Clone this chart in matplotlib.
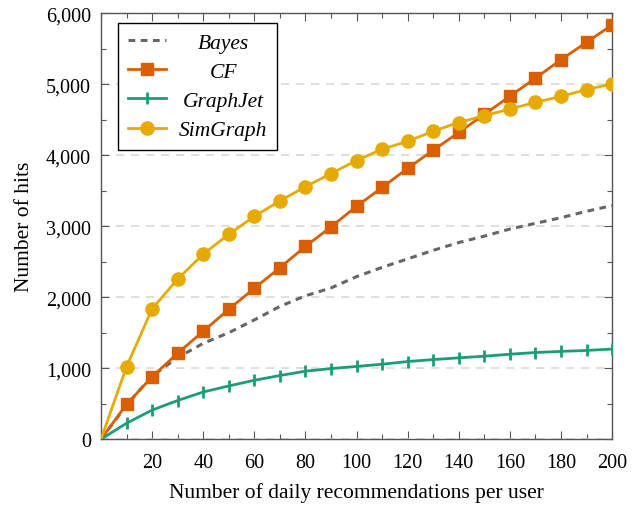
import numpy as np
import matplotlib
matplotlib.use('Agg')
import matplotlib.pyplot as plt
from matplotlib.ticker import MultipleLocator, FuncFormatter

plt.rcParams['font.family'] = ['Liberation Serif', 'DejaVu Serif']

# data
recs = [0, 10, 20, 30, 40, 50, 60, 70, 80, 90, 100,
        110, 120, 130, 140, 150, 160, 170, 180, 190, 200]
bayes = [0, 480, 890, 1150, 1350, 1500, 1680, 1870, 2020, 2130, 2290,
         2420, 2540, 2660, 2770, 2860, 2960, 3040, 3120, 3210, 3290]
cf = [0, 490, 880, 1210, 1520, 1830, 2125, 2415, 2715, 2990, 3280,
      3545, 3815, 4070, 4320, 4575, 4830, 5085, 5345, 5590, 5835]
graphjet = [0, 225, 410, 545, 665, 750, 830, 897, 958, 995, 1025,
            1056, 1094, 1122, 1146, 1169, 1197, 1221, 1237, 1250, 1270]
simgraph = [0, 1020, 1835, 2255, 2606, 2885, 3138, 3357, 3555, 3742, 3925,
            4085, 4195, 4338, 4460, 4556, 4650, 4744, 4828, 4925, 5003]

fig = plt.figure(figsize=(6.43, 5.06), dpi=100)
ax = fig.add_axes([0.157, 0.130, 0.795, 0.842])

mk = slice(1, None)
ax.plot(recs, bayes, color='#666666', lw=2.2, ls=(0, (2.2, 1.8)), label='Bayes', zorder=3)
ax.plot(recs, cf, color='#D95F02', lw=2, marker='s', ms=8.5, markevery=mk, label='CF', zorder=4)
ax.plot(recs, graphjet, color='#1B9E77', lw=2, marker='|', ms=8, mew=2, markevery=mk,
        label='GraphJet', zorder=4)
ax.plot(recs, simgraph, color='#E6AB02', lw=2, marker='o', ms=9.5, markevery=mk,
        label='SimGraph', zorder=4)

ax.set_xlim(0, 200)
ax.set_ylim(0, 6000)
ax.xaxis.set_major_locator(MultipleLocator(20))
ax.xaxis.set_minor_locator(MultipleLocator(10))
ax.yaxis.set_major_locator(MultipleLocator(1000))
ax.yaxis.set_minor_locator(MultipleLocator(500))
ax.xaxis.set_major_formatter(FuncFormatter(lambda v, p: '' if v == 0 else '%d' % v))
ax.yaxis.set_major_formatter(FuncFormatter(lambda v, p: '{:,}'.format(int(v))))

ax.tick_params(which='both', direction='in', top=True, right=True, color='#555555',
               labelsize=14.5)
ax.tick_params(which='major', length=6, width=0.8)
ax.tick_params(which='minor', length=3.5, width=0.8)
ax.tick_params(axis='x', pad=10)
ax.tick_params(axis='y', pad=7)
for s in ax.spines.values():
    s.set_color('#555555')
    s.set_linewidth(1)

ax.grid(axis='y', which='major', color='#d9d9d9', ls=(0, (5, 4)), lw=1.2)
ax.set_axisbelow(True)

ax.set_xlabel('Number of daily recommendations per user', fontsize=15.5, labelpad=7)
ax.set_ylabel('Number of hits', fontsize=15.5, labelpad=9)

leg = ax.legend(loc='upper left', bbox_to_anchor=(0.033, 0.977), borderaxespad=0,
                fancybox=False, edgecolor='black', framealpha=1,
                prop={'style': 'italic', 'size': 15.5},
                handlelength=1.8, borderpad=0.45, labelspacing=0.42, handletextpad=0.6)
leg.get_frame().set_linewidth(1)

# centre the legend labels like the original
fig.canvas.draw()
r = fig.canvas.get_renderer()
widths = [t.get_window_extent(r).width for t in leg.get_texts()]
wmax = max(widths)
for t, w in zip(leg.get_texts(), widths):
    t.set_x((wmax - w) / 2)

fig.savefig('out.png', dpi=100)
